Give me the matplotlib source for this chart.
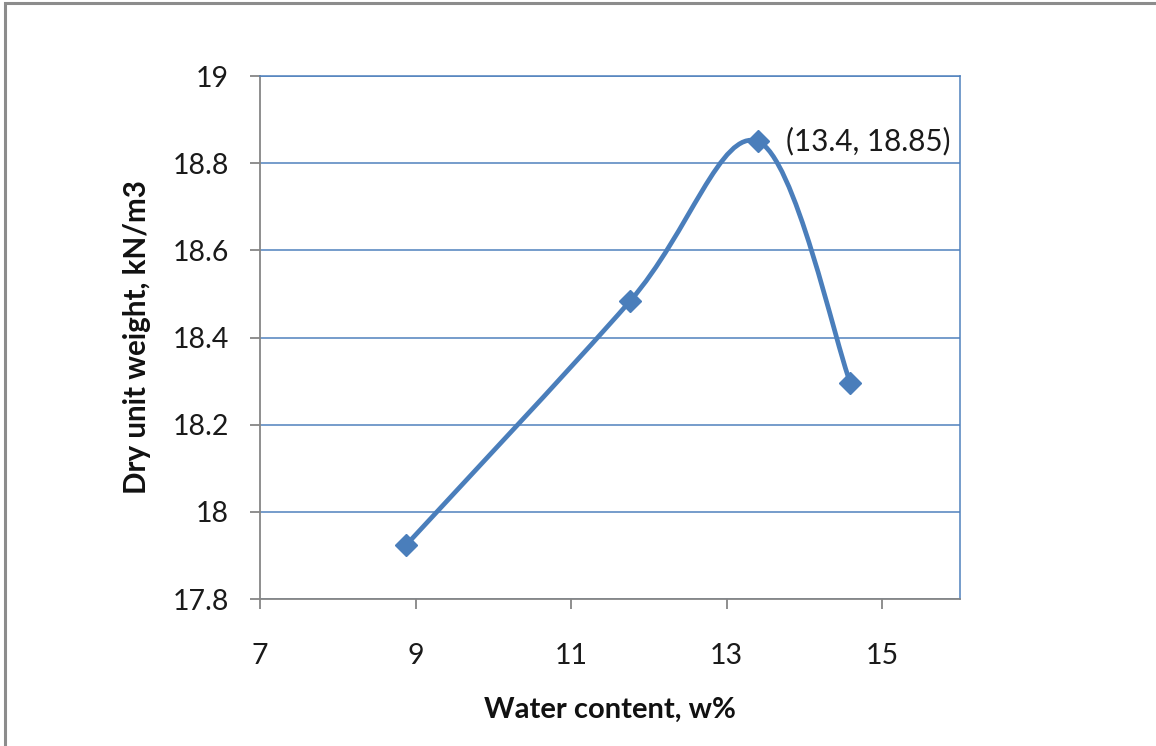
import numpy as np
import matplotlib
matplotlib.use("Agg")
import matplotlib.pyplot as plt
from matplotlib.path import Path
from matplotlib.patches import PathPatch, Rectangle

# Compaction test results
water_content = [8.88, 11.76, 13.4, 14.59]
dry_unit_weight = [17.924, 18.484, 18.85, 18.296]
peak_label = "(13.4, 18.85)"

x_ticks = [7, 9, 11, 13, 15]
y_ticks = [17.8, 18, 18.2, 18.4, 18.6, 18.8, 19]
y_tick_labels = ["17.8", "18", "18.2", "18.4", "18.6", "18.8", "19"]

LINE_BLUE = "#4A7EBB"
GRID_BLUE = "#4F81BD"
AXIS_GRAY = "#868686"

plt.rcParams["font.family"] = ["Lato", "DejaVu Sans"]

W, H = 1156, 746
fig = plt.figure(figsize=(W / 100, H / 100), dpi=100)

# outer chart frame
fig.patches.append(Rectangle((5 / W, -0.1), 1.2, 1 - 3 / H + 0.1,
                             transform=fig.transFigure, fill=False,
                             edgecolor="#8C8C8C", linewidth=2.2))

left, right, top, bottom = 260, 960, 76, 599
ax = fig.add_axes([left / W, 1 - bottom / H, (right - left) / W, (bottom - top) / H])
ax.set_xlim(7, 16)
ax.set_ylim(17.8, 19)


def smooth_path(xs, ys):
    """Piecewise cubic Bezier through the points (spreadsheet-style smoothing)."""
    pts = np.column_stack([xs, ys])
    n = len(pts)
    verts = [pts[0]]
    codes = [Path.MOVETO]
    for i in range(n - 1):
        p0 = pts[max(i - 1, 0)]
        p1 = pts[i]
        p2 = pts[i + 1]
        p3 = pts[min(i + 2, n - 1)]
        c1 = p1 + (p2 - p0) / 6.0
        c2 = p2 - (p3 - p1) / 6.0
        verts += [c1, c2, p2]
        codes += [Path.CURVE4] * 3
    return Path(verts, codes)


ax.add_patch(PathPatch(smooth_path(water_content, dry_unit_weight),
                       facecolor="none", edgecolor=LINE_BLUE, linewidth=3.4,
                       capstyle="round", joinstyle="round", zorder=3))
ax.plot(water_content, dry_unit_weight, linestyle="none", marker="D",
        markersize=11, color=LINE_BLUE, zorder=4)

ax.annotate(peak_label, (water_content[2], dry_unit_weight[2]),
            xytext=(20, 0), textcoords="offset points",
            ha="left", va="center", fontsize=21.3, color="#1a1a1a")

ax.set_xticks(x_ticks)
ax.set_yticks(y_ticks)
ax.set_yticklabels(y_tick_labels)
ax.yaxis.grid(True, color=GRID_BLUE, linewidth=1.1)
ax.set_axisbelow(True)

for s in ("left", "bottom"):
    ax.spines[s].set_color(AXIS_GRAY)
    ax.spines[s].set_linewidth(1.3)
for s in ("right", "top"):
    ax.spines[s].set_color(GRID_BLUE)
    ax.spines[s].set_linewidth(1.1)

ax.tick_params(axis="both", direction="out", length=7, width=1.3,
               color=AXIS_GRAY, labelsize=20.5, labelcolor="#1a1a1a")
ax.tick_params(axis="y", pad=15.5)
ax.tick_params(axis="x", pad=25)

ax.set_xlabel("Water content, w%", fontsize=21, fontweight="bold",
              labelpad=20, color="#111111")
ax.set_ylabel("Dry unit weight, kN/m3", fontsize=21.3, fontweight="bold",
              labelpad=15, color="#111111")

fig.savefig("out.png", dpi=100)
